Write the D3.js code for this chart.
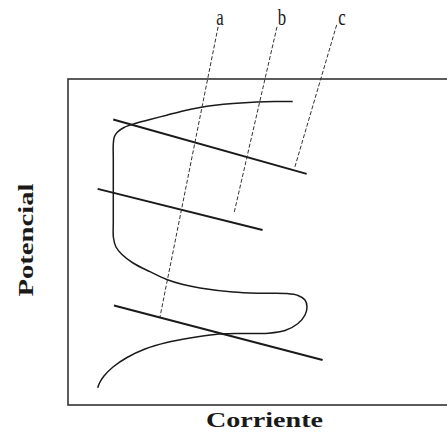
<!DOCTYPE html>
<html>
<head>
<meta charset="utf-8">
<script src="https://cdn.jsdelivr.net/npm/d3@7"></script>
<style>
  html, body { margin: 0; padding: 0; background: #fff; }
  svg { display: block; }
</style>
</head>
<body>
<svg id="chart" width="447" height="435"></svg>
<script>
// ---- Data (arbitrary units: current 0-100, potential 0-100) ----
const curveCurrent   = [59.13, 54.47, 49.66, 43.42, 38.68, 34.74, 30.26, 25.97, 21.58, 17.63, 14.74, 13.03, 12.18, 11.92, 11.92, 11.92, 11.92, 11.97, 12.63, 14.21, 17.11, 21.58, 25.97, 30.26, 34.74, 43.42, 50.53, 57.55, 60.53, 62.37, 62.89, 62.37, 60.53, 57.11, 52.63, 45.26, 38.68, 32.11, 25.97, 20.26, 15.53, 11.84, 9.47, 8.29, 7.82];
const curvePotential = [93.10, 93.10, 92.94, 92.48, 91.93, 91.26, 90.18, 88.90, 87.58, 86.35, 85.12, 83.74, 82.21, 80.06, 75.15, 65.95, 56.75, 51.23, 48.47, 46.17, 43.56, 40.89, 38.50, 36.96, 35.89, 34.66, 34.29, 34.20, 33.59, 32.21, 30.06, 27.61, 25.00, 22.85, 22.02, 21.93, 21.63, 20.55, 19.17, 17.18, 14.57, 11.66, 8.90, 6.75, 5.31];

// Straight (Tafel) lines: start/end current & potential
const lineX1 = [11.9, 7.8, 12.1];
const lineY1 = [87.6, 66.3, 30.5];
const lineX2 = [62.8, 51.2, 67.0];
const lineY2 = [70.9, 53.7, 13.8];

// Leader (dashed) lines and their labels
const labels  = ["a", "b", "c"];
const labelX  = [40.0, 56.3, 72.1];
const labelY  = [116.6, 116.6, 116.6];
const leadX1  = [39.5, 55.0, 70.7];
const leadY1  = [116.0, 116.0, 116.6];
const leadX2  = [24.2, 43.7, 59.6];
const leadY2  = [27.0, 58.9, 72.6];

const xTitle = "Corriente";
const yTitle = "Potencial";

// ---- Layout ----
const svg = d3.select("#chart");
const mLeft = 68, mRight = 450, mTop = 79, mBottom = 405;

const x = d3.scaleLinear().domain([0, 100]).range([mLeft, mRight - 2]);
const y = d3.scaleLinear().domain([0, 100]).range([mBottom, mTop]);

const ink = "#1a1a1a";
const serif = "'Liberation Serif', 'Times New Roman', Times, serif";

// Plot frame (right edge runs off the picture)
svg.append("rect")
  .attr("x", mLeft).attr("y", mTop)
  .attr("width", mRight - mLeft).attr("height", mBottom - mTop)
  .attr("fill", "none").attr("stroke", "#333").attr("stroke-width", 1.6);

// Curve
const pts = curveCurrent.map((c, i) => [c, curvePotential[i]]);
const line = d3.line().x(d => x(d[0])).y(d => y(d[1])).curve(d3.curveCatmullRom.alpha(0.5));
svg.append("path")
  .attr("d", line(pts))
  .attr("fill", "none").attr("stroke", ink).attr("stroke-width", 1.5)
  .attr("stroke-linejoin", "round");

// Tafel lines
svg.selectAll("line.tafel").data(lineX1).join("line")
  .attr("class", "tafel")
  .attr("x1", (d, i) => x(lineX1[i])).attr("y1", (d, i) => y(lineY1[i]))
  .attr("x2", (d, i) => x(lineX2[i])).attr("y2", (d, i) => y(lineY2[i]))
  .attr("stroke", ink).attr("stroke-width", 2);

// Dashed leader lines
svg.selectAll("line.lead").data(leadX1).join("line")
  .attr("class", "lead")
  .attr("x1", (d, i) => x(leadX1[i])).attr("y1", (d, i) => y(leadY1[i]))
  .attr("x2", (d, i) => x(leadX2[i])).attr("y2", (d, i) => y(leadY2[i]))
  .attr("stroke", "#333").attr("stroke-width", 1)
  .attr("stroke-dasharray", "4,2");

// Labels a, b, c
svg.selectAll("text.lbl").data(labels).join("text")
  .attr("class", "lbl")
  .attr("transform", (d, i) => `translate(${x(labelX[i])},${y(labelY[i])}) scale(1.05,1.45)`)
  .attr("text-anchor", "middle")
  .attr("font-family", serif)
  .attr("font-size", 16)
  .attr("fill", ink)
  .text(d => d);

// Axis titles
svg.append("text")
  .attr("x", (206 + 323) / 2).attr("y", 426.5)
  .attr("text-anchor", "middle")
  .attr("font-family", serif)
  .attr("font-weight", "bold").attr("font-size", 22)
  .attr("textLength", 117).attr("lengthAdjust", "spacingAndGlyphs")
  .attr("fill", ink)
  .text(xTitle);

svg.append("text")
  .attr("transform", "translate(33,240) rotate(-90)")
  .attr("text-anchor", "middle")
  .attr("font-family", serif)
  .attr("font-weight", "bold").attr("font-size", 22)
  .attr("textLength", 113).attr("lengthAdjust", "spacingAndGlyphs")
  .attr("fill", ink)
  .text(yTitle);
</script>
</body>
</html>
